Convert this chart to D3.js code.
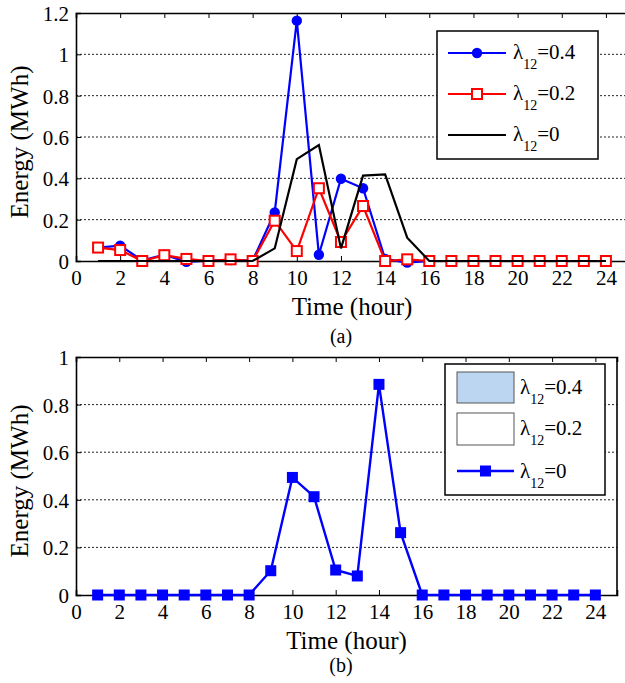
<!DOCTYPE html>
<html><head><meta charset="utf-8">
<script src="https://cdn.jsdelivr.net/npm/d3@7"></script>
<style>body{margin:0;background:#fff}svg{display:block}text{font-family:'Liberation Serif','DejaVu Serif',Times,serif;fill:#000}</style>
</head><body>
<script>
const hours = d3.range(1, 25);
const xTicks = d3.range(0, 25, 2);
const yTicksA = [0, 0.2, 0.4, 0.6, 0.8, 1, 1.2];
const yTicksB = [0, 0.2, 0.4, 0.6, 0.8, 1];
const seriesNames = ["0.4", "0.2", "0"];
const blueA = [0.065,0.074,0.003,0.03,-0.004,0.002,0.005,0.002,0.235,1.163,0.03,0.398,0.352,0.01,-0.008,0,0,0,0,0,0,0,0,0];
const redA  = [0.065,0.053,0,0.028,0.01,0,0.008,0,0.195,0.048,0.352,0.092,0.266,0,0.008,0,0,0,0,0,0,0,0,0];
const blackA= [0,0,0,0,0,0,0,0,0.061,0.493,0.561,0.061,0.413,0.419,0.113,0,0,0,0,0,0,0,0,0];
const blueB = [0,0,0,0,0,0,0,0,0.102,0.494,0.413,0.105,0.08,0.885,0.262,0,0,0,0,0,0,0,0,0];

const W = 625, H = 683;
const svg = d3.select("body").append("svg").attr("width", W).attr("height", H)
  .attr("font-family", "Liberation Serif, DejaVu Serif, serif");
const FONT = "Liberation Serif, DejaVu Serif, serif";

function panel(cfg) {
  const x = d3.scaleLinear().domain([0, 25]).range([cfg.left, cfg.right]);
  const y = d3.scaleLinear().domain([0, cfg.ymax]).range([cfg.bottom, cfg.top]);
  const g = svg.append("g");
  g.selectAll(".grid").data(cfg.yTicks.filter(v => v > 0 && v < cfg.ymax)).enter().append("line")
    .attr("x1", cfg.left).attr("x2", cfg.right).attr("y1", d => y(d)).attr("y2", d => y(d))
    .attr("stroke", "#222").attr("stroke-width", 1).attr("stroke-dasharray", "2,2");
  const xb = g.append("g").attr("transform", `translate(0,${cfg.bottom})`)
    .call(d3.axisBottom(x).tickValues(xTicks).tickSize(-5).tickPadding(9).tickFormat(d3.format("d")));
  const xt = g.append("g").attr("transform", `translate(0,${cfg.top})`)
    .call(d3.axisTop(x).tickValues(xTicks).tickSize(-5).tickFormat(""));
  const yl = g.append("g").attr("transform", `translate(${cfg.left},0)`)
    .call(d3.axisLeft(y).tickValues(cfg.yTicks).tickSize(-5).tickPadding(7).tickFormat(d => String(+d.toFixed(1))));
  [xb, xt, yl].forEach(a => {
    a.attr("font-family", FONT).attr("font-size", 21);
    a.select(".domain").attr("stroke", "#000").attr("stroke-width", 1.6);
    a.selectAll(".tick line").attr("stroke", "#000").attr("stroke-width", 1);
    a.selectAll("text").attr("fill", "#000");
  });
  xb.selectAll("text").attr("dy", "0.71em");
  yl.selectAll("text").attr("dy", "0.36em");
  g.append("line").attr("x1", cfg.right).attr("x2", cfg.right).attr("y1", cfg.top).attr("y2", cfg.bottom)
    .attr("stroke", "#000").attr("stroke-width", 1.6);
  g.append("text").attr("x", (cfg.left + cfg.right) / 2).attr("y", cfg.bottom + 54)
    .attr("text-anchor", "middle").attr("font-size", 25).text("Time (hour)");
  g.append("text").attr("transform", `translate(28,${(cfg.top + cfg.bottom) / 2 + 5}) rotate(-90)`)
    .attr("text-anchor", "middle").attr("font-size", 25).text("Energy (MWh)");
  g.append("text").attr("x", 341).attr("y", cfg.capY).attr("text-anchor", "middle")
    .attr("font-size", 20).text(cfg.cap);
  return {x, y, g};
}

function legendLabel(g, x, y, val) {
  const t = g.append("text").attr("x", x).attr("y", y).attr("font-size", 21);
  t.append("tspan").text("λ");
  t.append("tspan").attr("dy", 10).attr("font-size", 14).text("12");
  t.append("tspan").attr("dy", -10).text("=" + val);
}

const A = panel({left: 76, right: 628, top: 13, bottom: 261, ymax: 1.2, yTicks: yTicksA, cap: "(a)", capY: 343});
const lineA = d3.line().x((d, i) => A.x(hours[i])).y(d => A.y(d));
A.g.append("path").datum(blueA).attr("d", lineA).attr("fill", "none").attr("stroke", "#0000ff").attr("stroke-width", 2.2);
A.g.selectAll(".cb").data(blueA).enter().append("circle")
  .attr("cx", (d, i) => A.x(hours[i])).attr("cy", d => A.y(d)).attr("r", 5.2).attr("fill", "#0000ff");
A.g.append("path").datum(redA).attr("d", lineA).attr("fill", "none").attr("stroke", "#ff0000").attr("stroke-width", 2.2);
A.g.selectAll(".sr").data(redA).enter().append("rect")
  .attr("x", (d, i) => A.x(hours[i]) - 5).attr("y", d => A.y(d) - 5).attr("width", 10).attr("height", 10)
  .attr("fill", "#fff").attr("stroke", "#ff0000").attr("stroke-width", 2);
A.g.append("path").datum(blackA).attr("d", lineA).attr("fill", "none").attr("stroke", "#000").attr("stroke-width", 2.2);

const LA = A.g.append("g");
LA.append("rect").attr("x", 437).attr("y", 31).attr("width", 161).attr("height", 128)
  .attr("fill", "#fff").attr("stroke", "#000").attr("stroke-width", 1.5);
const laY = [53, 94, 135];
const laCol = ["#0000ff", "#ff0000", "#000"];
laY.forEach((yy, i) => {
  LA.append("line").attr("x1", 448).attr("x2", 506).attr("y1", yy).attr("y2", yy).attr("stroke", laCol[i]).attr("stroke-width", 2.2);
  if (i === 0) LA.append("circle").attr("cx", 477).attr("cy", yy).attr("r", 5.2).attr("fill", "#0000ff");
  if (i === 1) LA.append("rect").attr("x", 472).attr("y", yy - 5).attr("width", 10).attr("height", 10)
    .attr("fill", "#fff").attr("stroke", "#ff0000").attr("stroke-width", 2);
  legendLabel(LA, 513, yy + 6, seriesNames[i]);
});

const B = panel({left: 76, right: 617, top: 357, bottom: 595, ymax: 1, yTicks: yTicksB, cap: "(b)", capY: 672});
const lineB = d3.line().x((d, i) => B.x(hours[i])).y(d => B.y(d));
B.g.append("path").datum(blueB).attr("d", lineB).attr("fill", "none").attr("stroke", "#0000ff").attr("stroke-width", 2.4);
B.g.selectAll(".sb").data(blueB).enter().append("rect")
  .attr("x", (d, i) => B.x(hours[i]) - 5.5).attr("y", d => B.y(d) - 5.5).attr("width", 11).attr("height", 11)
  .attr("fill", "#0000ff");

const LB = B.g.append("g");
LB.append("rect").attr("x", 445).attr("y", 364).attr("width", 160).attr("height", 131)
  .attr("fill", "#fff").attr("stroke", "#000").attr("stroke-width", 1.5);
LB.append("rect").attr("x", 457).attr("y", 372).attr("width", 57).attr("height", 31)
  .attr("fill", "#bcd6f2").attr("stroke", "#555").attr("stroke-width", 1);
LB.append("rect").attr("x", 457).attr("y", 413).attr("width", 57).attr("height", 32)
  .attr("fill", "#fff").attr("stroke", "#555").attr("stroke-width", 1);
LB.append("line").attr("x1", 457).attr("x2", 514).attr("y1", 471).attr("y2", 471).attr("stroke", "#0000ff").attr("stroke-width", 2.4);
LB.append("rect").attr("x", 480).attr("y", 465.5).attr("width", 11).attr("height", 11).attr("fill", "#0000ff");
legendLabel(LB, 520, 394, seriesNames[0]);
legendLabel(LB, 520, 435, seriesNames[1]);
legendLabel(LB, 520, 478, seriesNames[2]);
</script>
</body></html>
